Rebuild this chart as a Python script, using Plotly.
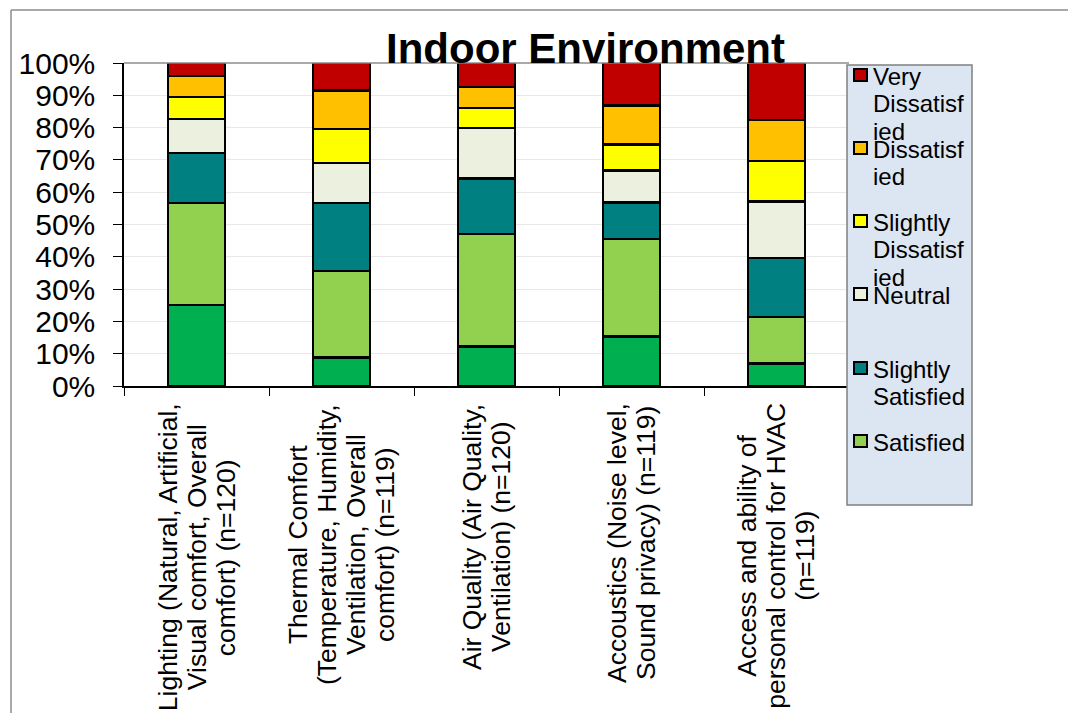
import plotly.graph_objects as go

# ---- data -------------------------------------------------------------
categories = ["Lighting", "Thermal", "Air Quality", "Acoustics", "HVAC Control"]

category_labels = [
    ["Lighting (Natural, Artificial,", "Visual comfort, Overall", "comfort) (n=120)"],
    ["Thermal Comfort", "(Temperature, Humidity,", "Ventilation, Overall", "comfort) (n=119)"],
    ["Air Quality (Air Quality,", "Ventilation) (n=120)"],
    ["Accoustics (Noise level,", "Sound privacy) (n=119)"],
    ["Access and ability of", "personal control for HVAC", "(n=119)"],
]

# percentages per response level (bottom of the stack first)
very_satisfied = [25.1, 8.9, 12.2, 15.3, 7.0]
satisfied = [31.5, 26.7, 34.9, 30.2, 14.3]
slightly_satisfied = [15.5, 21.0, 17.1, 11.3, 18.3]
neutral = [10.5, 12.4, 15.7, 9.9, 17.5]
slightly_dissatisfied = [6.9, 10.5, 6.2, 8.0, 12.6]
dissatisfied = [6.4, 12.0, 6.4, 12.1, 12.7]
very_dissatisfied = [4.1, 8.5, 7.5, 13.2, 17.6]

series = [
    ("Very Satisfied", very_satisfied, "#00B050"),
    ("Satisfied", satisfied, "#92D050"),
    ("Slightly Satisfied", slightly_satisfied, "#008080"),
    ("Neutral", neutral, "#EBF1DE"),
    ("Slightly Dissatisfied", slightly_dissatisfied, "#FFFF00"),
    ("Dissatisfied", dissatisfied, "#FFC000"),
    ("Very Dissatisfied", very_dissatisfied, "#C00000"),
]

# legend entries as wrapped in the legend box (top to bottom)
legend_entries = [
    (["Very", "Dissatisf", "ied"], "#C00000"),
    (["Dissatisf", "ied"], "#FFC000"),
    (["Slightly", "Dissatisf", "ied"], "#FFFF00"),
    (["Neutral"], "#EBF1DE"),
    (["Slightly", "Satisfied"], "#008080"),
    (["Satisfied"], "#92D050"),
]

# ---- layout geometry (pixels) -----------------------------------------
W, H = 1068, 713
PL, PR, PT, PB = 124, 849, 63, 386
FONT = "Liberation Sans, Arial, sans-serif"


def xp(px):
    return (px - PL) / (PR - PL)


def yp(py):
    return (PB - py) / (PB - PT)


# Arial advance widths (per em) for measuring the rotated labels
_W = {
    " ": .278, "(": .333, ")": .333, ",": .278, "=": .584,
    "0": .556, "1": .556, "2": .556, "9": .556,
    "A": .667, "C": .722, "H": .667, "L": .556, "N": .722, "O": .778,
    "Q": .778, "S": .667, "T": .611, "V": .667,
    "a": .556, "b": .556, "c": .5, "d": .556, "e": .556, "f": .278,
    "g": .556, "h": .556, "i": .222, "l": .222, "m": .833, "n": .556,
    "o": .556, "p": .556, "r": .333, "s": .5, "t": .278, "u": .556,
    "v": .5, "y": .5,
}


def text_len(s, size):
    return sum(_W.get(ch, .556) for ch in s) * size


fig = go.Figure()

for name, vals, color in series:
    fig.add_trace(go.Bar(
        x=categories, y=vals, name=name,
        marker=dict(color=color, line=dict(color="black", width=2.5)),
        width=0.395, showlegend=False,
    ))

shapes = []
annotations = []

# outer frame (left and top edges)
shapes.append(dict(type="line", xref="paper", yref="paper",
                   x0=xp(11), x1=xp(11), y0=yp(10), y1=yp(H + 5),
                   line=dict(color="#8C8C8C", width=1.5)))
shapes.append(dict(type="line", xref="paper", yref="paper",
                   x0=xp(11), x1=xp(W + 5), y0=yp(10), y1=yp(10),
                   line=dict(color="#8C8C8C", width=1.5)))
# top edge of the plot area
shapes.append(dict(type="line", xref="paper", yref="paper",
                   x0=0, x1=1, y0=1, y1=1,
                   line=dict(color="#8C8C8C", width=1.5)))

# category labels: rotated, centred lines
LBL_SIZE = 26.5
LBL_GAP = 29
LBL_TOP = 403
for cat, lines in zip(categories, category_labels):
    longest = max(text_len(s, LBL_SIZE) for s in lines)
    center_y = LBL_TOP + longest / 2
    n = len(lines)
    for i, s in enumerate(lines):
        annotations.append(dict(
            x=cat, xref="x", y=0, yref="paper",
            xshift=(i - (n - 1) / 2) * LBL_GAP,
            yshift=-(center_y - PB),
            text=s, textangle=-90, showarrow=False,
            xanchor="center", yanchor="middle",
            font=dict(family=FONT, size=LBL_SIZE, color="black"),
        ))

# title
annotations.append(dict(
    x=xp(585), y=yp(49), xref="paper", yref="paper",
    text="<b>Indoor Environment</b>", showarrow=False,
    xanchor="center", yanchor="middle",
    font=dict(family=FONT, size=42, color="black"),
))

# legend box
shapes.append(dict(type="rect", xref="paper", yref="paper", layer="above",
                   x0=xp(847), x1=xp(972), y0=yp(65), y1=yp(505),
                   fillcolor="#DCE6F2", line=dict(color="#808080", width=1.5)))
LEG_SIZE = 24
first_line_y = [75, 148, 221, 294, 368, 441]
for (lines, color), y0 in zip(legend_entries, first_line_y):
    shapes.append(dict(type="rect", xref="paper", yref="paper", layer="above",
                       x0=xp(854), x1=xp(867), y0=yp(y0 - 6), y1=yp(y0 + 6),
                       fillcolor=color, line=dict(color="black", width=2)))
    for j, s in enumerate(lines):
        annotations.append(dict(
            x=xp(871), y=yp(y0 + j * 27.5 + 1), xref="paper", yref="paper",
            text=s, showarrow=False, xanchor="left", yanchor="middle",
            font=dict(family=FONT, size=LEG_SIZE, color="black"),
        ))

fig.update_layout(
    width=W, height=H, autosize=False,
    margin=dict(l=PL, r=W - PR, t=PT, b=H - PB, pad=0),
    paper_bgcolor="white", plot_bgcolor="white",
    barmode="stack", bargap=0.6,
    shapes=shapes, annotations=annotations,
    font=dict(family=FONT, color="black"),
)
fig.update_xaxes(
    showticklabels=False, showgrid=False,
    showline=True, linecolor="black", linewidth=1.5,
    ticks="outside", ticklen=8, tickcolor="black", tickwidth=1,
    tickson="boundaries",
)
fig.update_yaxes(
    range=[0, 100], dtick=10, ticksuffix="%",
    showgrid=True, gridcolor="#E8E8E8", gridwidth=1,
    showline=True, linecolor="black", linewidth=1.5,
    ticks="outside", ticklen=9, tickcolor="black", tickwidth=1,
    tickfont=dict(family=FONT, size=30, color="black"),
    ticklabelstandoff=12, zeroline=False,
)

fig.write_html("out.html")
